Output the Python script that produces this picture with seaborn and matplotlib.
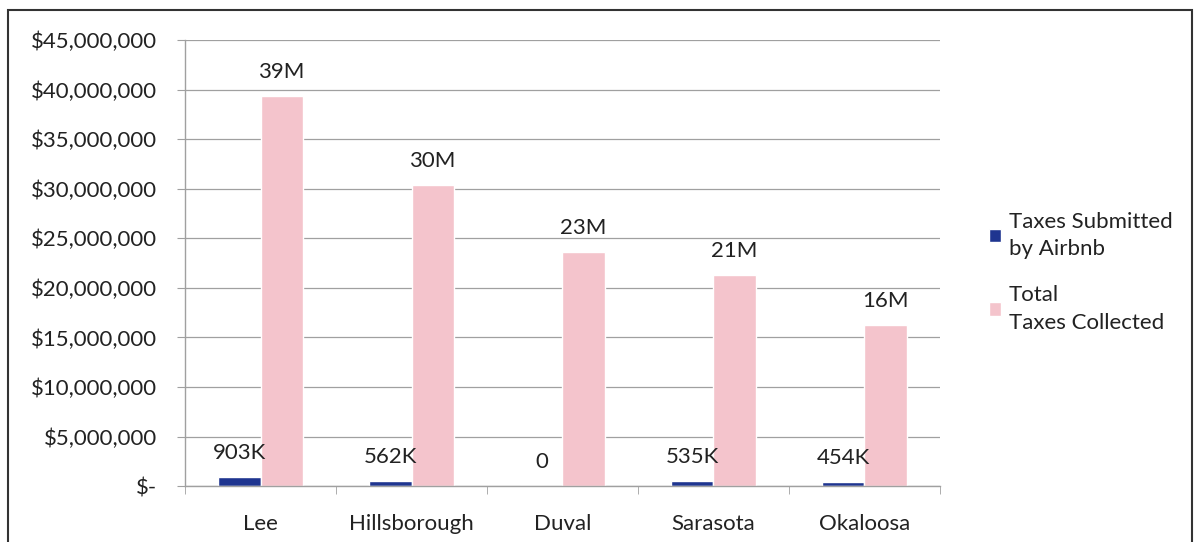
import matplotlib
matplotlib.use("Agg")
import matplotlib.pyplot as plt
import seaborn as sns
import pandas as pd
from matplotlib.patches import Rectangle
from matplotlib.ticker import FuncFormatter, MultipleLocator

counties = ["Lee", "Hillsborough", "Duval", "Sarasota", "Okaloosa"]
airbnb = [903000, 562000, 0, 535000, 454000]
total = [39400000, 30400000, 23600000, 21300000, 16300000]
airbnb_labels = ["903K", "562K", "0", "535K", "454K"]
total_labels = ["39M", "30M", "23M", "21M", "16M"]
series = ["Taxes Submitted\nby Airbnb", "Total\nTaxes Collected"]

df = pd.DataFrame({
    "county": counties * 2,
    "value": airbnb + total,
    "series": [series[0]] * len(counties) + [series[1]] * len(counties),
})

sns.set_style("white")
plt.rcParams["font.family"] = ["Lato", "DejaVu Sans"]

fig = plt.figure(figsize=(11.98, 5.42), dpi=100)
ax = fig.add_axes([0.1545, 0.103, 0.63, 0.823])

palette = {series[0]: "#1f3590", series[1]: "#f4c4cc"}
sns.barplot(data=df, x="county", y="value", hue="series", palette=palette,
            width=0.56, ax=ax, saturation=1, legend=True)

ax.set_ylim(0, 45000000)
ax.set_xlim(-0.5, 4.5)
ax.yaxis.set_major_locator(MultipleLocator(5000000))
ax.yaxis.set_major_formatter(FuncFormatter(lambda v, p: "$-" if v == 0 else f"${v:,.0f}"))
ax.grid(axis="y", color="#a0a0a0", linewidth=0.9)
ax.set_axisbelow(True)
for s in ["top", "right"]:
    ax.spines[s].set_visible(False)
for s in ["left", "bottom"]:
    ax.spines[s].set_color("#a0a0a0")
    ax.spines[s].set_linewidth(1.0)
ax.set_xlabel("")
ax.set_ylabel("")
ax.tick_params(axis="y", labelsize=16, length=6, color="#a0a0a0", left=True, pad=14, labelcolor="#222222")
ax.tick_params(axis="x", labelsize=16, length=0, pad=20, labelcolor="#222222")
ax.set_xticks([i + 0.5 for i in range(-1, 5)], minor=True)
ax.tick_params(axis="x", which="minor", length=6, color="#a0a0a0", bottom=True)

conts = ax.containers
ax.bar_label(conts[0], labels=airbnb_labels, padding=10, fontsize=16, color="#222222")
ax.bar_label(conts[1], labels=total_labels, padding=10, fontsize=16, color="#222222")

leg = ax.legend(loc="center left", bbox_to_anchor=(1.038, 0.48), frameon=False,
                fontsize=16, handlelength=0.55, handleheight=0.55, handletextpad=0.35,
                labelspacing=1.2, labelcolor="#222222")
for t in leg.get_texts():
    t.set_linespacing(1.45)

fig.add_artist(Rectangle((0.007, -0.01), 0.988, 0.992, transform=fig.transFigure,
                         fill=False, edgecolor="#333333", linewidth=1.5))

fig.savefig("out.png", dpi=100)
